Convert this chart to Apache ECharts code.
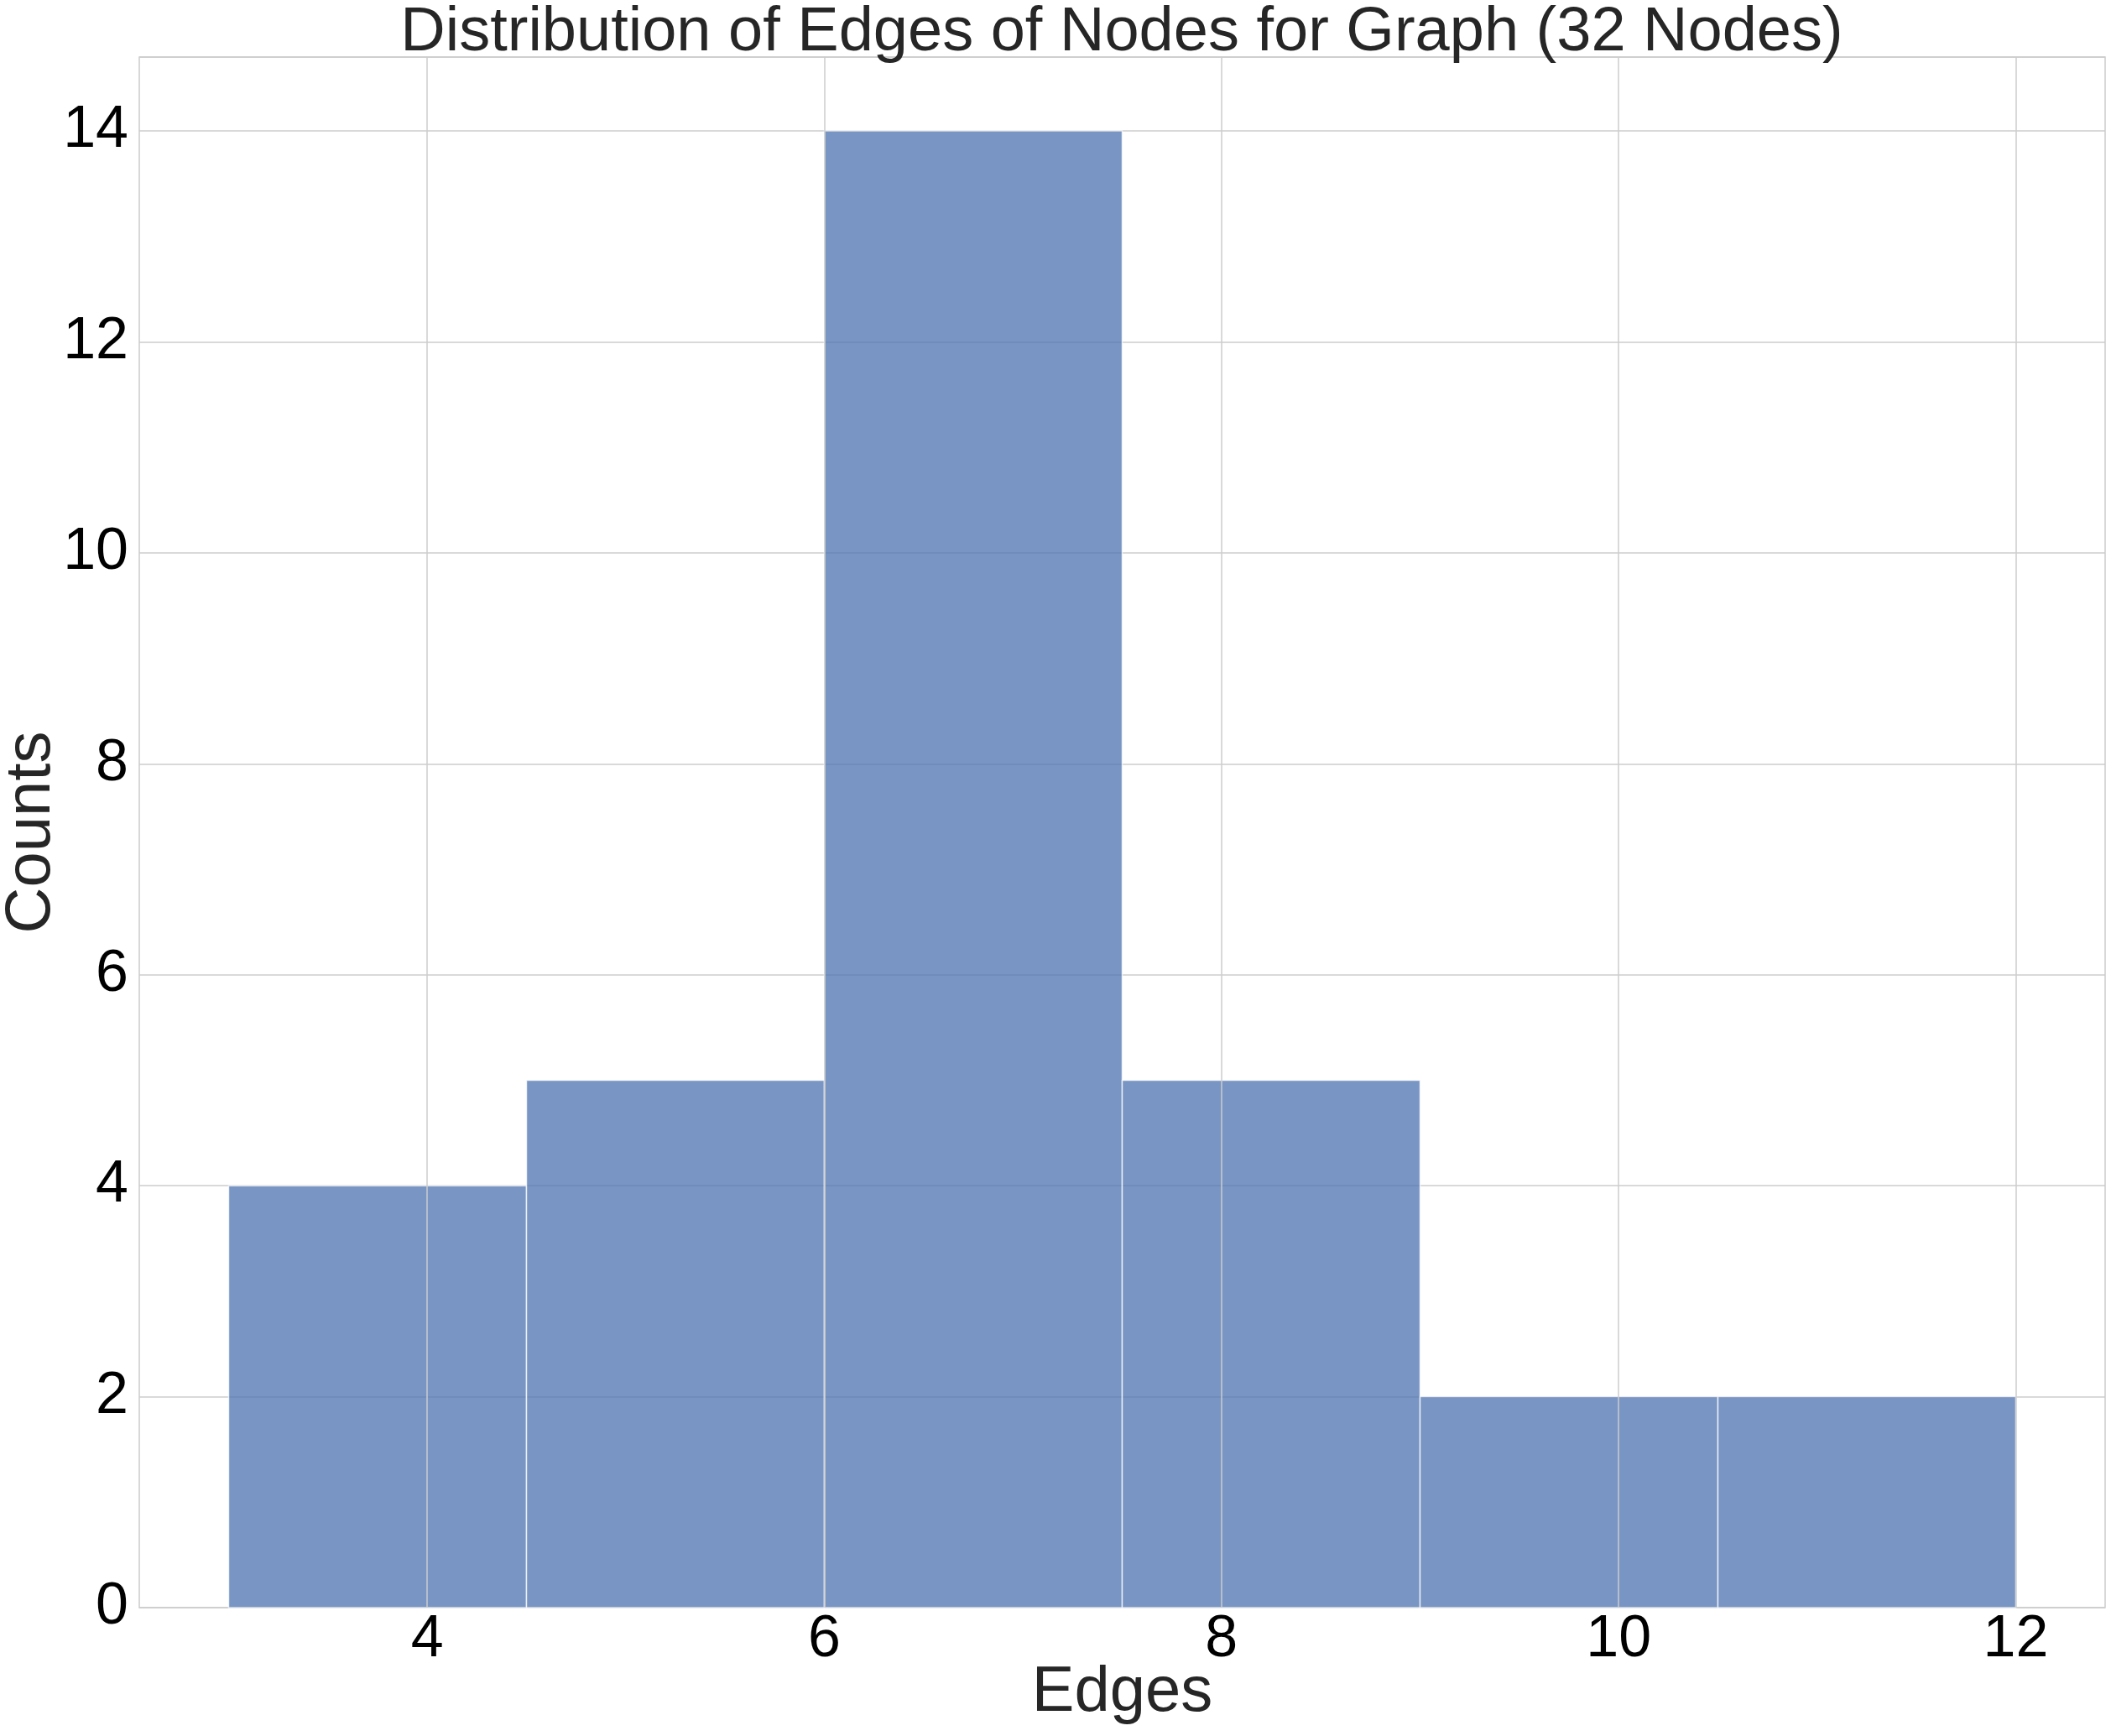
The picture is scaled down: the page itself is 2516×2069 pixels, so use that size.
<!DOCTYPE html>
<html>
<head>
<meta charset="utf-8">
<style>
html,body{margin:0;padding:0;background:#fff;}
#chart{width:2516px;height:2069px;}
</style>
<script src="https://cdn.jsdelivr.net/npm/echarts@6/dist/echarts.min.js"></script>
</head>
<body>
<div id="chart"></div>
<script>
const titleText = 'Distribution of Edges of Nodes for Graph (32 Nodes)';
const xLabel = 'Edges';
const yLabel = 'Counts';
const binEdges = [3, 4.5, 6, 7.5, 9, 10.5, 12];
const counts = [4, 5, 14, 5, 2, 2];
const xTicks = [4, 6, 8, 10, 12];
const yTicks = [0, 2, 4, 6, 8, 10, 12, 14];
const xRange = [2.55, 12.45];
const yRange = [0, 14.7];

const FONT = 'Liberation Sans, Arial, sans-serif';
const chart = echarts.init(document.getElementById('chart'));

const barData = counts.map((c, i) => [binEdges[i], binEdges[i + 1], c]);

chart.setOption({
  animation: false,
  backgroundColor: '#ffffff',
  title: {
    text: titleText,
    left: 1337,
    textAlign: 'center',
    top: 3,
    padding: 0,
    textStyle: {fontFamily: FONT, fontSize: 74, fontWeight: 'normal', color: '#262626', lineHeight: 74}
  },
  grid: {left: 166, right: 7, top: 68, bottom: 153, containLabel: false, outerBoundsMode: 'none',
    show: true, borderColor: '#cccccc', borderWidth: 1.5, backgroundColor: 'transparent'},
  xAxis: {
    type: 'value', min: xRange[0], max: xRange[1],
    name: xLabel, nameLocation: 'middle', nameGap: 64, nameMoveOverlap: false,
    nameTextStyle: {fontFamily: FONT, fontSize: 76, color: '#262626', lineHeight: 76},
    axisLine: {show: false}, axisTick: {show: false},
    splitLine: {show: false},
    axisLabel: {customValues: xTicks, fontFamily: FONT, fontSize: 70, color: '#000000', margin: 4, lineHeight: 70,
      formatter: v => String(v)}
  },
  yAxis: {
    type: 'value', min: yRange[0], max: yRange[1], interval: 2,
    name: yLabel, nameLocation: 'middle', nameGap: 90, nameRotate: 90, nameMoveOverlap: false,
    nameTextStyle: {fontFamily: FONT, fontSize: 76, color: '#262626', lineHeight: 76},
    axisLine: {show: false}, axisTick: {show: false},
    splitLine: {show: true, lineStyle: {color: '#cccccc', width: 1.5}},
    axisLabel: {customValues: yTicks, fontFamily: FONT, fontSize: 70, color: '#000000', margin: 13,
      formatter: v => String(v)}
  },
  series: [
    {
      type: 'line', data: [], z: 1, silent: true,
      markLine: {
        silent: true, symbol: ['none', 'none'], animation: false,
        label: {show: false},
        lineStyle: {color: '#cccccc', width: 1.5, type: 'solid'},
        data: xTicks.map(v => ({xAxis: v}))
      }
    },
    {
      type: 'custom', z: 2,
      data: barData,
      encode: {x: [0, 1], y: 2},
      renderItem: function (params, api) {
        const p0 = api.coord([api.value(0), api.value(2)]);
        const p1 = api.coord([api.value(1), 0]);
        return {
          type: 'rect',
          shape: {x: p0[0], y: p0[1], width: p1[0] - p0[0], height: p1[1] - p0[1]},
          style: {fill: 'rgba(76,114,176,0.75)', stroke: 'rgba(255,255,255,0.75)', lineWidth: 1.5}
        };
      }
    }
  ]
});
</script>
</body>
</html>
